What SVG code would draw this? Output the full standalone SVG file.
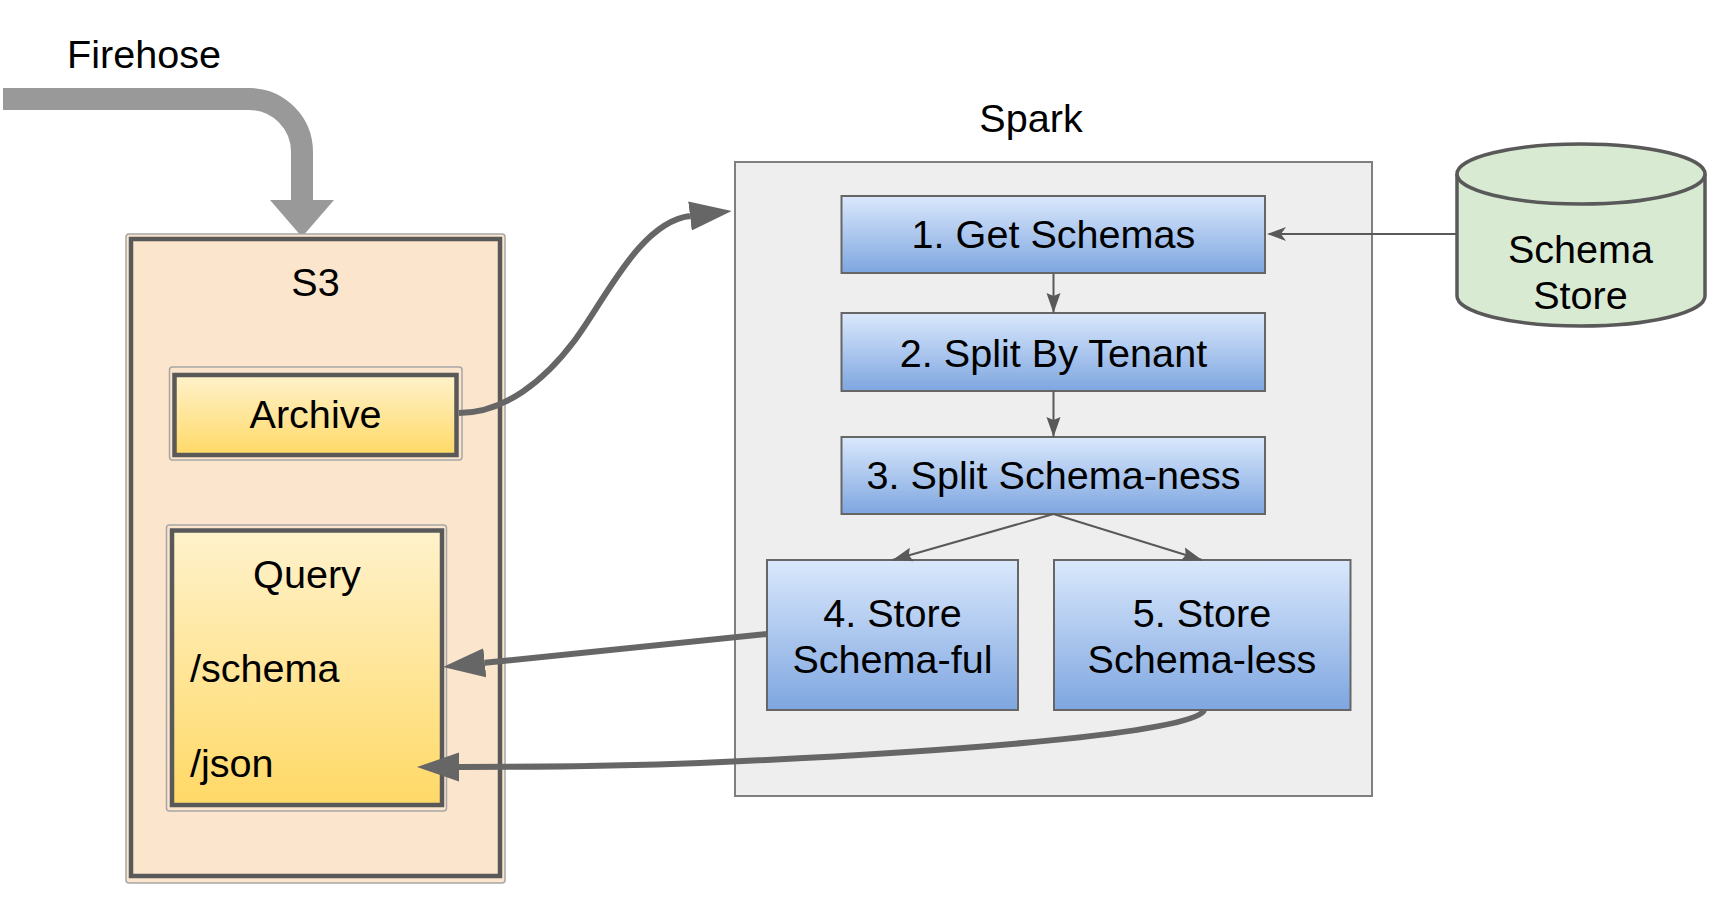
<svg xmlns="http://www.w3.org/2000/svg" width="1722" height="922" viewBox="0 0 1722 922">
<style>
text{font-family:"Liberation Sans",Arial,sans-serif;font-size:39.6px;fill:#000}
.mid{text-anchor:middle}
.blue{fill:url(#gBlue);stroke:#666;stroke-width:2}
.yel{fill:url(#gYel);stroke:#595959;stroke-width:4.5}
.thin{fill:none;stroke:#a6a6a6;stroke-width:1.5}
.big{fill:none;stroke:#666;stroke-width:6}
.small{fill:none;stroke:#595959;stroke-width:2}
</style>
<defs>
<linearGradient id="gBlue" x1="0" y1="0" x2="0" y2="1"><stop offset="0" stop-color="#dae8fc"/><stop offset="1" stop-color="#7ea6e0"/></linearGradient>
<linearGradient id="gYel" x1="0" y1="0" x2="0" y2="1"><stop offset="0" stop-color="#fff2cc"/><stop offset="1" stop-color="#ffd966"/></linearGradient>
<marker id="mBig" markerUnits="userSpaceOnUse" viewBox="0 -15 42 30" refX="0" refY="0" markerWidth="42" markerHeight="30" orient="auto"><path d="M0,-14.5 L42,0 L0,14.5 z" fill="#666"/></marker>
<marker id="mSmall" markerUnits="userSpaceOnUse" viewBox="0 -8 20 16" refX="20" refY="0" markerWidth="20" markerHeight="16" orient="auto"><path d="M0,-7 L20,0 L0,7 L3,0 z" fill="#595959"/></marker>
</defs>
<rect width="1722" height="922" fill="#fff"/>

<g id="firehose">
<text x="67" y="67.5">Firehose</text>
<path d="M3,99 H249 A53,53 0 0 1 302,152 V201" fill="none" stroke="#999" stroke-width="22"/>
<polygon points="270,200 334,200 302,237" fill="#999"/>
</g>

<g id="s3">
<rect x="126" y="234" width="379" height="649" rx="3" fill="#fce5cd" stroke="#a6a6a6" stroke-width="1.5"/>
<rect x="131" y="239" width="369" height="637" fill="#fce5cd" stroke="#595959" stroke-width="4.5"/>
<text class="mid" x="315.5" y="296">S3</text>
</g>

<g id="archive">
<rect class="thin" x="169.5" y="367" width="292.5" height="93" rx="3" fill="#fce5cd"/>
<rect class="yel" x="174.5" y="375" width="282" height="80"/>
<text class="mid" x="315.5" y="428">Archive</text>
</g>

<g id="query">
<rect class="thin" x="166.5" y="525" width="280" height="286" rx="3"/>
<rect class="yel" x="172" y="530.5" width="270" height="274.5"/>
<text class="mid" x="307" y="588">Query</text>
<text x="190" y="682">/schema</text>
<text x="190" y="777">/json</text>
</g>

<g id="spark">
<text class="mid" x="1031" y="132">Spark</text>
<rect x="735" y="162" width="637" height="634" fill="#eeeeee" stroke="#7f7f7f" stroke-width="2"/>
</g>

<g id="getSchemas">
<rect class="blue" x="841.5" y="196" width="423.5" height="77"/>
<text class="mid" x="1053.5" y="248">1. Get Schemas</text>
</g>
<g id="splitTenant">
<rect class="blue" x="841.5" y="313" width="423.5" height="78"/>
<text class="mid" x="1053.5" y="367">2. Split By Tenant</text>
</g>
<g id="splitSchema">
<rect class="blue" x="841.5" y="437" width="423.5" height="77"/>
<text class="mid" x="1053.5" y="489">3. Split Schema-ness</text>
</g>
<g id="storeFul">
<rect class="blue" x="767" y="560" width="251" height="150"/>
<text class="mid" x="892.5" y="627">4. Store</text>
<text class="mid" x="892.5" y="673">Schema-ful</text>
</g>
<g id="storeLess">
<rect class="blue" x="1054" y="560" width="296.5" height="150"/>
<text class="mid" x="1202" y="627">5. Store</text>
<text class="mid" x="1202" y="673">Schema-less</text>
</g>

<g id="schemaStore">
<path d="M1457,174 V296 A124,30 0 0 0 1705,296 V174" fill="#d9ead3" stroke="#595959" stroke-width="3.5"/>
<ellipse cx="1581" cy="174" rx="124" ry="30" fill="#d9ead3" stroke="#595959" stroke-width="3.5"/>
<text class="mid" x="1580.5" y="263">Schema</text>
<text class="mid" x="1580.5" y="309">Store</text>
</g>

<g id="connectors">
<path class="big" d="M459,413 C505,413 545,380 575,340 C605,300 640,222 690,216" marker-end="url(#mBig)"/>
<path class="big" d="M767,634 L484.8,662.8" marker-end="url(#mBig)"/>
<path class="big" d="M1204,710 C1200,730 1000,750 700,763 C600,767 520,767 459,767" marker-end="url(#mBig)"/>
<path class="small" d="M1053.5,273 V313" marker-end="url(#mSmall)"/>
<path class="small" d="M1053.5,391 V437" marker-end="url(#mSmall)"/>
<path class="small" d="M1053.5,514 L892.5,560" marker-end="url(#mSmall)"/>
<path class="small" d="M1053.5,514 L1202,560" marker-end="url(#mSmall)"/>
<path class="small" d="M1457,234 H1269"/>
<path d="M1267,234 L1286,227 L1281,234 L1286,241 z" fill="#595959"/>
</g>
</svg>
